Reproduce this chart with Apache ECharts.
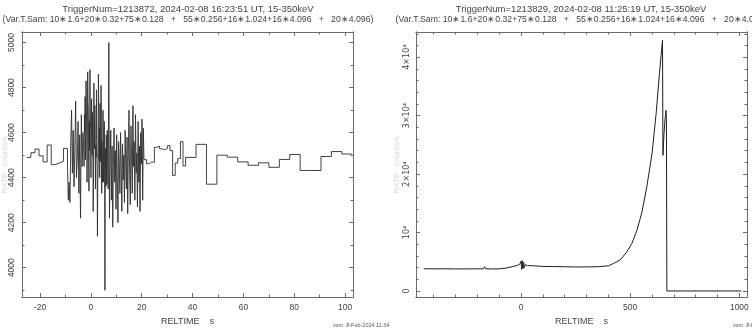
<!DOCTYPE html>
<html lang="en">
<head>
<meta charset="UTF-8">
<title>Light curves</title>
<script src="https://cdn.jsdelivr.net/npm/echarts@6/dist/echarts.min.js"></script>
<style>
  html, body { margin: 0; padding: 0; background: #fff; }
  #main { width: 752px; height: 332px; }
</style>
</head>
<body>
<div id="main"></div>
<script>
// ---- left panel: trigger 1213872, binned counts (variable time sampling)
const leftStart = -25.2;
const leftBinWidths = [1.6, 0.32, 0.128, 0.256, 1.024, 4.096];
const seg16 = [4490, 4511, 4527, 4497, 4470, 4545, 4458, 4465, 4472, 4530];
const seg032 = [4450, 4300, 4380, 4290, 4560, 4700, 4420, 4610, 4360, 4520,
                4740, 4400, 4480, 4650, 4330, 4590, 4220, 4680, 4450, 4600];
const seg0128 = [4520, 4450, 4680, 4600, 4760, 4480, 4590, 4830, 4700, 4620,
                 4380, 4550, 4870, 4750, 4700, 4470, 4340, 4650, 4520, 4880,
                 4690, 4610, 4400, 4560, 4750, 4620, 4500, 4690, 4510, 4250,
                 4400, 4820, 4660, 4530, 4720, 4580, 4350, 4540, 4490, 4790,
                 4570, 4460, 4140, 4380, 4430, 4860, 4700, 4480, 4620, 4400,
                 4730, 4550, 4470, 4810, 4650, 4330, 4560, 4420, 4380, 4700,
                 4600, 4380, 4480, 4650, 4410, 3900, 4420, 4530, 4360, 4590,
                 4500, 4370, 4610, 4580, 4440];
const seg0256 = [4350, 5000, 4220, 4490, 4610, 4300, 4540, 4180, 4450, 4620,
                 4380, 4520, 4260, 4590, 4410, 4200, 4560, 4470, 4330, 4600,
                 4440, 4250, 4550, 4390, 4500, 4290, 4610, 4460, 4350, 4580,
                 4240, 4520, 4700, 4410, 4280, 4630, 4490, 4330, 4720, 4450,
                 4560, 4300, 4680, 4420, 4510, 4270, 4650, 4380, 4540, 4250,
                 4600, 4460, 4660, 4300, 4620];
const seg1024 = [4480, 4462, 4470, 4468, 4535, 4540, 4528, 4524, 4530, 4542,
                 4520, 4410, 4465, 4485, 4560, 4452];
const seg4096 = [4490, 4548, 4371, 4500, 4491, 4470, 4455, 4466, 4446, 4481,
                 4503, 4432, 4432, 4494, 4516, 4505];
const leftSegs = [seg16, seg032, seg0128, seg0256, seg1024, seg4096];

// ---- right panel: trigger 1213829
const rtTimes = [-445, -400, -350, -300, -250, -200, -172, -167, -162, -130, -100, -70, -40, -15, -5,
                 0, 3, 6, 9, 12, 15, 20, 30, 60, 100, 150, 200, 250, 300, 350, 400,
                 423, 454, 485, 508, 531, 554, 576, 600, 619, 634, 648, 650, 655, 660, 664, 666, 668, 1009];
const rtRates = [3800, 3780, 3800, 3770, 3780, 3790, 3780, 4150, 3800, 3760, 3780, 3900, 4150, 4400, 4600,
                 5100, 3700, 5200, 3800, 4900, 4000, 4500, 4350, 4300, 4200, 4180, 4150, 4100, 4120, 4150, 4300,
                 4700, 5300, 6700, 8150, 10400, 13500, 17800, 23500, 30400, 37200, 42900, 23200, 27000, 29500, 30900, 29000, 0, 0];

// ---- ticks
const lxMajor = [-20, 0, 20, 40, 60, 80, 100];
const lxMinor = [-10, 10, 30, 50, 70, 90];
const lyMajor = [4000, 4200, 4400, 4600, 4800, 5000];
const lyMinor = [3900, 4100, 4300, 4500, 4700, 4900];
const rxMajor = [0, 500, 1000];
const rxMinor = [-400, -300, -200, -100, 100, 200, 300, 400, 600, 700, 800, 900];
const ryMajor = [0, 10000, 20000, 30000, 40000];
const ryMinor = [2000, 4000, 6000, 8000, 12000, 14000, 16000, 18000, 22000, 24000, 26000, 28000,
                 32000, 34000, 36000, 38000, 42000, 44000];

const title1L = 'TriggerNum=1213872, 2024-02-08 16:23:51 UT, 15-350keV';
const title1R = 'TriggerNum=1213829, 2024-02-08 11:25:19 UT, 15-350keV';
const title2 = '(Var.T.Sam: 10\u22171.6+20\u22170.32+75\u22170.128   +   55\u22170.256+16\u22171.024+16\u22174.096   +   20\u22174.096)';
const footer = 'vxm  8-Feb-2024 11:34';

// step points: each bin starts at its time, last point closes the last bin
let t = leftStart;
const leftPts = [];
leftSegs.forEach(function (seg, k) {
  seg.forEach(function (v) {
    leftPts.push([t, v]);
    t += leftBinWidths[k];
  });
});
leftPts.push([t, seg4096[seg4096.length - 1]]);

const rightPts = rtTimes.map(function (x, i) { return [x, rtRates[i]]; });

const FONT = '"Liberation Sans", Arial, sans-serif';
const LINE = '#6b6b6b';
const TXT = '#444';

function frame(grid, min, max, majors, minors, sides, label, name) {
  function one(pos, ticks, len, withLabel) {
    const ax = {
      type: 'value', gridIndex: grid, min: min, max: max, position: pos,
      axisLine: { show: true, onZero: false, lineStyle: { color: LINE, width: 1 } },
      axisTick: { show: true, inside: true, length: len, customValues: ticks, lineStyle: { color: LINE } },
      axisLabel: { show: false },
      splitLine: { show: false }
    };
    if (withLabel) {
      ax.axisLabel = Object.assign({
        show: true, customValues: majors, color: TXT, fontSize: 8.5, fontFamily: FONT,
        formatter: function (v) { return String(v); }
      }, label);
      if (name) {
        ax.name = name;
        ax.nameLocation = 'middle';
        ax.nameGap = 19;
        ax.nameTextStyle = { color: TXT, fontSize: 9, fontFamily: FONT };
      }
    }
    return ax;
  }
  return [one(sides[0], majors, 4, true), one(sides[0], minors, 2.5, false),
          one(sides[1], majors, 4, false), one(sides[1], minors, 2.5, false)];
}

function sci(v) {
  if (v === 0) return '0';
  if (v === 10000) return '10\u2074';
  return (v / 10000) + '\u00d710\u2074';
}

const chart = echarts.init(document.getElementById('main'));
chart.setOption({
  animation: false,
  backgroundColor: '#fff',
  grid: [
    { left: 22, top: 32, width: 331, height: 265 },
    { left: 416, top: 32, width: 331, height: 265 }
  ],
  xAxis: [].concat(
    frame(0, -27.1, 103.1, lxMajor, lxMinor, ['bottom', 'top'], { margin: 6 }, 'RELTIME    s'),
    frame(1, -481, 1035, rxMajor, rxMinor, ['bottom', 'top'], { margin: 6 }, 'RELTIME    s')
  ),
  yAxis: [].concat(
    frame(0, 3870, 5047, lyMajor, lyMinor, ['left', 'right'], { rotate: 90, margin: 6 }),
    frame(1, -1030, 44300, ryMajor, ryMinor, ['left', 'right'], { rotate: 90, margin: 5, formatter: sci, fontFamily: '"DejaVu Sans", sans-serif', fontSize: 8 })
  ),
  series: [
    {
      type: 'line', xAxisIndex: 0, yAxisIndex: 0, data: leftPts, step: 'end',
      showSymbol: false, lineStyle: { color: '#2e2e2e', width: 0.9 }
    },
    {
      type: 'line', xAxisIndex: 4, yAxisIndex: 4, data: rightPts,
      showSymbol: false, lineStyle: { color: '#1e1e1e', width: 1 }
    }
  ],
  graphic: [
    { type: 'text', x: 188, y: 9, style: { text: title1L, fill: TXT, font: '9.5px ' + FONT, align: 'center', verticalAlign: 'middle' } },
    { type: 'text', x: 188, y: 20, style: { text: title2, fill: TXT, font: '8.7px ' + FONT, align: 'center', verticalAlign: 'middle' } },
    { type: 'text', x: 581, y: 9, style: { text: title1R, fill: TXT, font: '9.5px ' + FONT, align: 'center', verticalAlign: 'middle' } },
    { type: 'text', x: 581, y: 20, style: { text: title2, fill: TXT, font: '8.7px ' + FONT, align: 'center', verticalAlign: 'middle' } },
    { type: 'text', x: 5, y: 165, rotation: Math.PI / 2, style: { text: 'RATE   counts/s', fill: '#d6d6d6', font: '8px ' + FONT, align: 'center', verticalAlign: 'middle' } },
    { type: 'text', x: 397, y: 165, rotation: Math.PI / 2, style: { text: 'RATE   counts/s', fill: '#d6d6d6', font: '8px ' + FONT, align: 'center', verticalAlign: 'middle' } },
    { type: 'text', x: 333, y: 325, style: { text: footer, fill: '#555', font: '5.5px ' + FONT, verticalAlign: 'middle' } },
    { type: 'text', x: 733, y: 325, style: { text: footer, fill: '#555', font: '5.5px ' + FONT, verticalAlign: 'middle' } }
  ]
});
</script>
</body>
</html>
